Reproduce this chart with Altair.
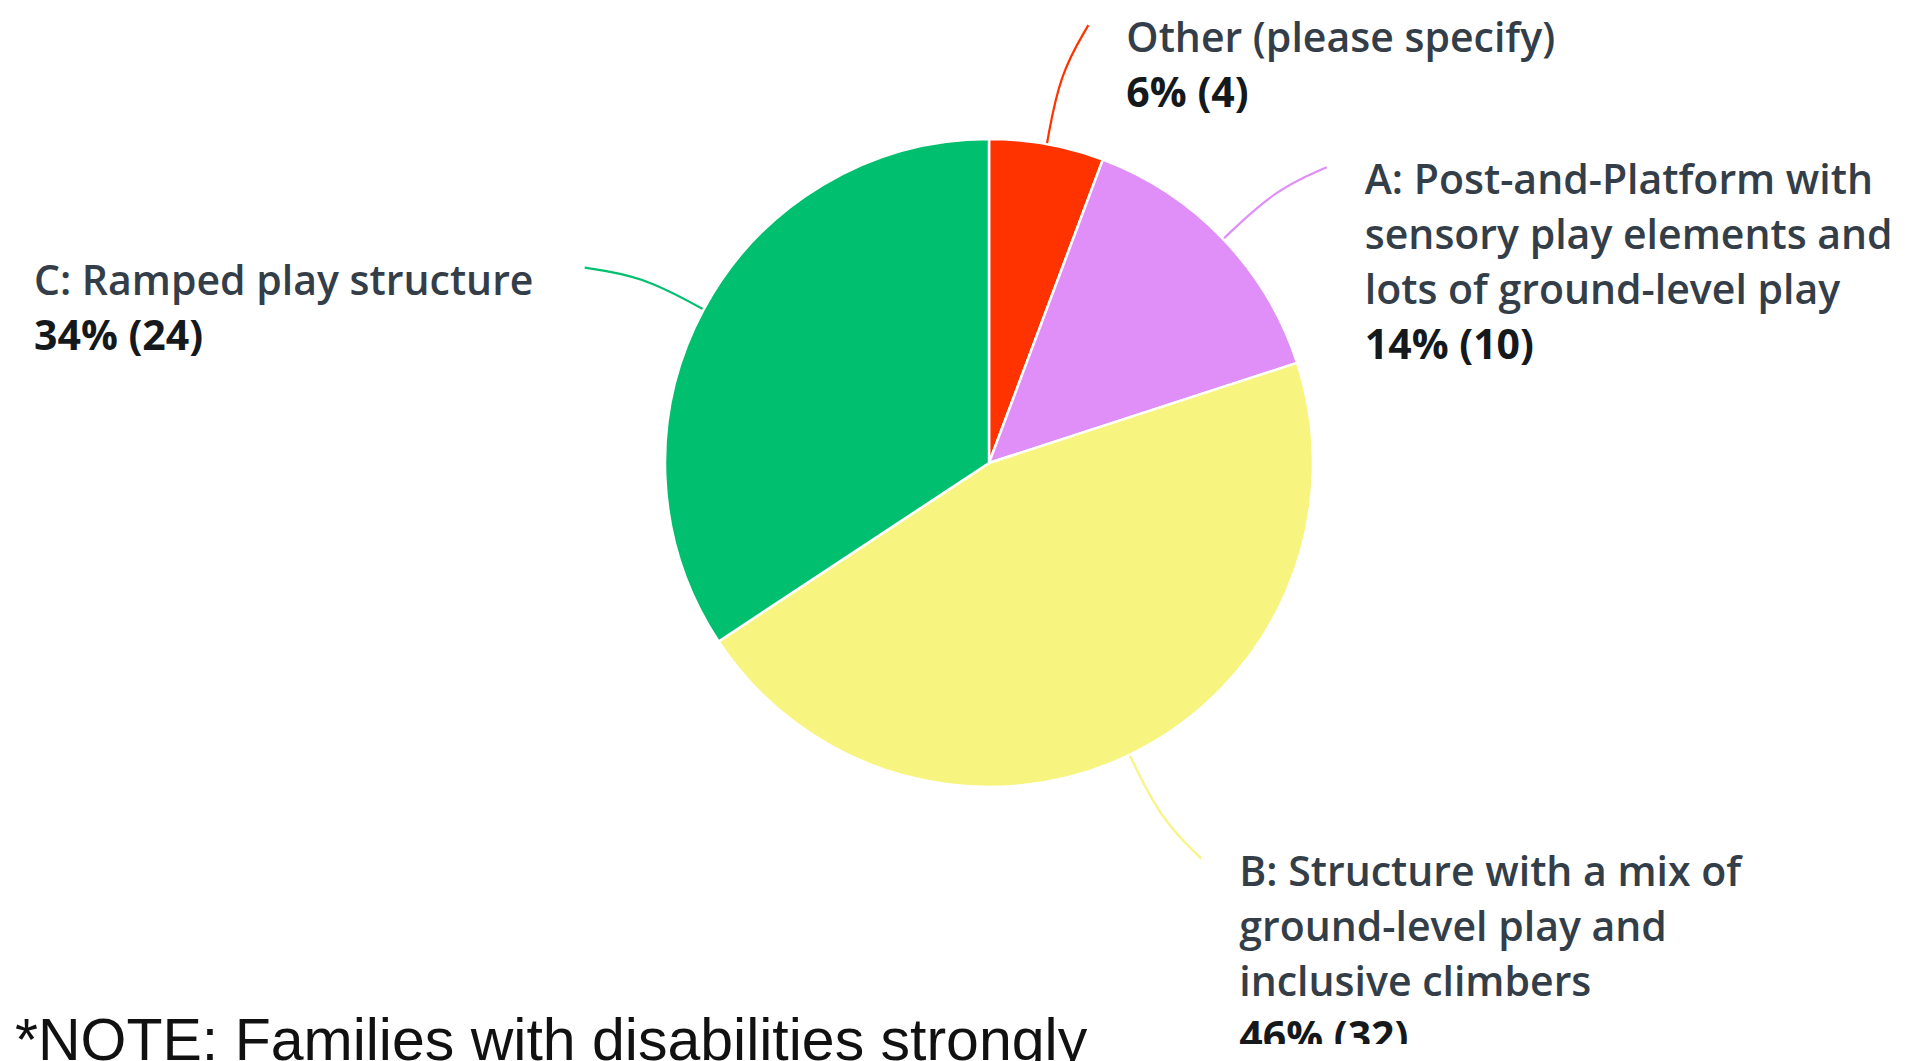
import altair as alt
import pandas as pd

# ---- data ----
categories = [
    "Other (please specify)",
    "A: Post-and-Platform with sensory play elements and lots of ground-level play",
    "B: Structure with a mix of ground-level play and inclusive climbers",
    "C: Ramped play structure",
]
label_text = [
    "Other (please specify)",
    "A: Post-and-Platform with\nsensory play elements and\nlots of ground-level play",
    "B: Structure with a mix of\nground-level play and\ninclusive climbers",
    "C: Ramped play structure",
]
counts = [4, 10, 32, 24]
colors = ["#FF3300", "#E08FF8", "#F7F57F", "#00BF6F"]
note = "*NOTE: Families with disabilities strongly"

df = pd.DataFrame({
    "cat": categories,
    "label": label_text,
    "count": counts,
    "idx": list(range(len(categories))),
    "nlines": [len(s.split("\n")) for s in label_text],
})

# ---- layout ----
W, H = 1892, 1036
CX, CY = 981, 455
R, R_MID, R_END = 324, 395, 449
GAP, DY, LEFT_X, LH = 38, 27, 26, 55
NAME_FONT = "Open Sans"
FS = 41

xscale = alt.Scale(domain=[0, W], nice=False, zero=False)
yscale = alt.Scale(domain=[0, H], nice=False, zero=False, reverse=True)
color = alt.Color("cat:N", scale=alt.Scale(domain=categories, range=colors), legend=None)

base = (
    alt.Chart(df)
    .transform_joinaggregate(total="sum(count)")
    .transform_window(cum="sum(count)", sort=[alt.SortField("idx", order="ascending")], frame=[None, 0])
    .transform_calculate(mid="2*PI*(datum.cum - datum.count/2)/datum.total")
    .transform_calculate(
        bend="(sin(datum.mid) >= 0 ? (datum.mid < PI/2 ? 1 : -1) : (datum.mid < 3*PI/2 ? 1 : -1)) * 2.5*PI/180"
    )
    .transform_calculate(end_a="datum.mid + datum.bend")
    .transform_calculate(ex=f"{CX} + {R_END}*sin(datum.end_a)")
    .transform_calculate(ey=f"{CY} - {R_END}*cos(datum.end_a)")
    .transform_calculate(lx=f"sin(datum.mid) >= 0 ? datum.ex + {GAP} : {LEFT_X}")
    .transform_calculate(ly=f"datum.ey + {DY}")
)

leaders = (
    base.transform_calculate(steps="[0, 1, 2]")
    .transform_flatten(["steps"])
    .transform_calculate(rr=f"datum.steps == 0 ? {R} : (datum.steps == 1 ? {R_MID} : {R_END})")
    .transform_calculate(aa="datum.steps == 2 ? datum.end_a : datum.mid")
    .transform_calculate(px=f"{CX} + datum.rr*sin(datum.aa)")
    .transform_calculate(py=f"{CY} - datum.rr*cos(datum.aa)")
    .mark_line(interpolate="basis", strokeWidth=2.2)
    .encode(
        x=alt.X("px:Q", scale=xscale, axis=None),
        y=alt.Y("py:Q", scale=yscale, axis=None),
        color=color,
        detail="cat:N",
        order=alt.Order("steps:Q"),
    )
)

pie = (
    alt.Chart(df)
    .mark_arc(outerRadius=R, stroke="white", strokeWidth=2.5)
    .encode(
        theta=alt.Theta("count:Q", stack=True),
        color=color,
        order=alt.Order("idx:Q"),
        x=alt.value(CX),
        y=alt.value(CY),
    )
)

names = (
    base.mark_text(
        align="left", baseline="alphabetic", font=NAME_FONT, fontSize=FS, fontWeight=600,
        color="#333E48", lineHeight=LH, lineBreak="\n", clip=True,
    )
    .encode(
        x=alt.X("lx:Q", scale=xscale, axis=None),
        y=alt.Y("ly:Q", scale=yscale, axis=None),
        text="label:N",
    )
)

pcts = (
    base.transform_calculate(
        ptxt="round(100*datum.count/datum.total) + '% (' + datum.count + ')'"
    )
    .transform_calculate(py2=f"datum.ly + {LH}*datum.nlines")
    .mark_text(
        align="left", baseline="alphabetic", font=NAME_FONT, fontSize=FS, fontWeight=700,
        color="#15191C", clip=True,
    )
    .encode(
        x=alt.X("lx:Q", scale=xscale, axis=None),
        y=alt.Y("py2:Q", scale=yscale, axis=None),
        text="ptxt:N",
    )
)

note_layer = (
    alt.Chart(pd.DataFrame({"note": [note]}))
    .mark_text(align="left", baseline="alphabetic", font="Liberation Sans", fontSize=59, color="#111111")
    .encode(x=alt.value(7), y=alt.value(1052), text="note:N")
)

chart = (
    alt.layer(leaders, pie, names, pcts, note_layer)
    .properties(
        width=W,
        height=H,
        autosize=alt.AutoSizeParams(type="none"),
        padding={"left": 0, "right": 0, "top": 0, "bottom": 17},
        background="white",
    )
    .configure_view(strokeWidth=0)
)

chart.save("out.html", embed_options={"renderer": "svg", "actions": False})
